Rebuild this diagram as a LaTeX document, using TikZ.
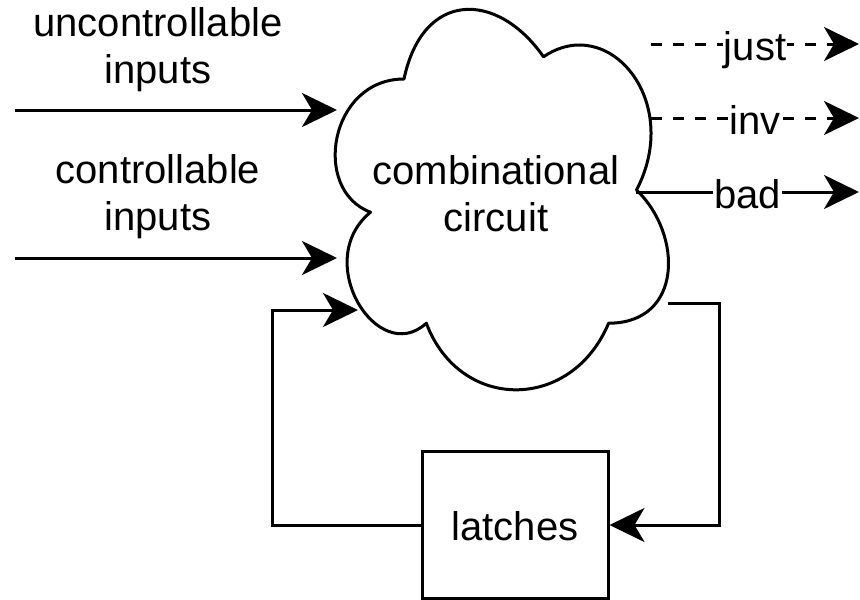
\documentclass[tikz,border=0pt]{standalone}
\usepackage{fontspec}
\setmainfont{Liberation Sans}
\usetikzlibrary{arrows.meta}
\begin{document}
\begin{tikzpicture}[x=1pt, y=-1pt,
  line width=3pt,
  every node/.style={font=\fontsize{40}{46.7}\selectfont},
  flow/.style={-{Stealth[length=35pt, width=34pt, inset=10pt]}},
  dashflow/.style={flow, dash pattern=on 11pt off 11pt},
  edgelabel/.style={fill=white, inner xsep=1pt, inner ysep=0pt, text height=36pt, text depth=4pt},
  textlabel/.style={align=center, anchor=base},
  latchbox/.style={draw, minimum width=186pt, minimum height=147pt, inner sep=0pt, line width=3pt}
]
  \useasboundingbox (0,0) rectangle (860,600);

  % the combinational circuit, drawn as a cloud
  \begin{scope}[shift={(311,-32)}, x=372pt, y=-444pt]
    \draw[line join=round] (0.25,0.25) .. controls (0.05,0.25) and (0,0.5) .. (0.16,0.55)
      .. controls (0,0.66) and (0.18,0.9) .. (0.31,0.8)
      .. controls (0.4,1) and (0.7,1) .. (0.8,0.8)
      .. controls (1,0.8) and (1,0.6) .. (0.875,0.5)
      .. controls (1,0.3) and (0.8,0.1) .. (0.625,0.2)
      .. controls (0.5,0.05) and (0.3,0.05) .. (0.25,0.25) -- cycle;
  \end{scope}
  \node[textlabel] (circuit) at (496,231.5) {combinational\\circuit};

  % input labels
  \node[textlabel] (unctext) at (158,83.5) {uncontrollable\\inputs};
  \node[textlabel] (ctext) at (158,230.5) {controllable\\inputs};

  % latches
  \node[latchbox] (latches) at (515,525) {};
  \node[anchor=base] (latchtext) at (515,540) {latches};

  % connector end points
  \coordinate (uncstart) at (15,110);
  \coordinate (uncend) at (337,110);
  \coordinate (cstart) at (15,258);
  \coordinate (cend) at (337,258);
  \coordinate (fbin) at (358,310);
  \coordinate (fbleft) at (272,310);
  \coordinate (fbout) at (668,303);
  \coordinate (fbright) at (719,303);
  \coordinate (juststart) at (651,44);
  \coordinate (justend) at (859,44);
  \coordinate (invstart) at (651,118);
  \coordinate (invend) at (859,118);
  \coordinate (badstart) at (636,192);
  \coordinate (badend) at (859,192);

  % inputs
  \draw[flow] (uncstart) -- (uncend);
  \draw[flow] (cstart) -- (cend);

  % feedback through the latches
  \draw[flow, line join=miter] (latches.west) -| (fbleft) -- (fbin);
  \draw[flow, line join=miter] (fbout) -- (fbright) |- (latches.east);

  % outputs
  \draw[dashflow] (juststart) -- node[edgelabel] (justlbl) {just} (justend);
  \draw[dashflow] (invstart) -- node[edgelabel] (invlbl) {inv} (invend);
  \draw[flow] (badstart) -- node[edgelabel] (badlbl) {bad} (badend);
\end{tikzpicture}
\end{document}
